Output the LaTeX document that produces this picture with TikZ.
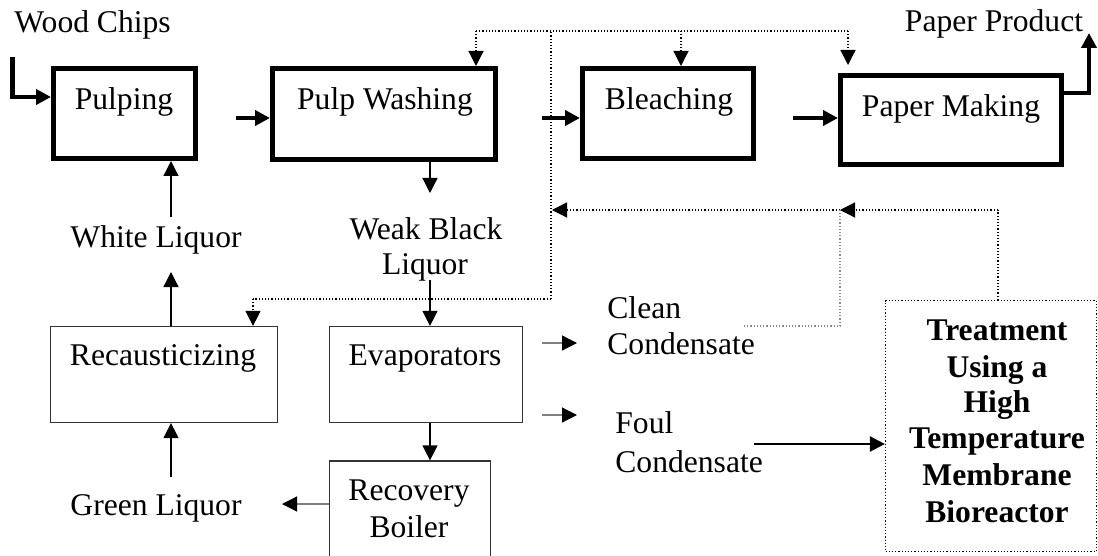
\documentclass[tikz,border=0pt]{standalone}
\usepackage{fontspec}
\setmainfont{Liberation Serif}
\usetikzlibrary{arrows.meta}
\begin{document}
\begin{tikzpicture}[x=0.5pt,y=-0.5pt,
  thickbox/.style={draw, line width=2.5pt, inner sep=0pt},
  thinbox/.style={draw=black!80, line width=0.6pt, inner sep=0pt},
  dotbox/.style={draw, densely dotted, line width=0.6pt, inner sep=0pt},
  txt/.style={inner sep=0pt, anchor=base, font=\fontsize{15.8}{17.5}\selectfont},
  btxt/.style={inner sep=0pt, anchor=base, font=\fontsize{15.8}{18}\selectfont\bfseries},
  arrtip/.style={-{Triangle[length=7.5pt,width=7.5pt]}},
  thk/.style={arrtip, line width=2.2pt},
  thn/.style={arrtip, line width=0.6pt},
  gthn/.style={-{Triangle[length=7.5pt,width=7.5pt,color=black]}, line width=0.6pt, draw=black!50},
  dotln/.style={densely dotted, line width=0.6pt},
  dotar/.style={dotln, arrtip},
]
\useasboundingbox (0,0) rectangle (1098,556);

% boxes
\node[thickbox, minimum width=142*0.5pt, minimum height=90*0.5pt] (pulp) at (124.5,113.5) {};
\node[thickbox, minimum width=223*0.5pt, minimum height=91*0.5pt] (pw) at (384,114) {};
\node[thickbox, minimum width=171*0.5pt, minimum height=90*0.5pt] (bl) at (668,113.5) {};
\node[thickbox, minimum width=221*0.5pt, minimum height=89*0.5pt] (pm) at (951,120) {};
\node[thinbox, minimum width=227*0.5pt, minimum height=96*0.5pt] (rec) at (164,374.5) {};
\node[thinbox, minimum width=193*0.5pt, minimum height=96*0.5pt] (eva) at (426,374.5) {};
\node[thinbox, minimum width=161*0.5pt, minimum height=99*0.5pt] (rb) at (410,510.5) {};
\node[dotbox, minimum width=211*0.5pt, minimum height=251*0.5pt] (tr) at (991,426) {};

% texts
\node[txt, anchor=base west] (wood) at (14,33) {Wood Chips};
\node[txt] (ppt) at (994,32) {Paper Product};
\node[txt] (pulpt) at (124,110) {Pulping};
\node[txt] (pwt) at (385,110) {Pulp Washing};
\node[txt] (blt) at (669,110) {Bleaching};
\node[txt] (pmt) at (951,117) {Paper Making};
\node[txt] (wlt) at (156,247) {White Liquor};
\node[txt] (wbat) at (426,239) {Weak Black};
\node[txt] (wbbt) at (425,274) {Liquor};
\node[txt] (rect) at (163,365) {Recausticizing};
\node[txt] (evat) at (425,365) {Evaporators};
\node[txt] (glt) at (156,515) {Green Liquor};
\node[txt] (rbat) at (409,500) {Recovery};
\node[txt] (rbbt) at (409,537) {Boiler};
\node[txt, anchor=base west] (ccat) at (607,318) {Clean};
\node[txt, anchor=base west] (ccbt) at (607,354) {Condensate};
\node[txt, anchor=base west] (fcat) at (615,433) {Foul};
\node[txt, anchor=base west] (fcbt) at (615,472) {Condensate};
\node[btxt] (tra) at (997,340) {Treatment};
\node[btxt] (trb) at (997,377) {Using a};
\node[btxt] (trc) at (997,412) {High};
\node[btxt] (trd) at (997,448) {Temperature};
\node[btxt] (tre) at (997,485) {Membrane};
\node[btxt] (trf) at (997,522) {Bioreactor};

% coordinates
\coordinate (wc1) at (12.5,57);
\coordinate (wc2) at (0,97);
\coordinate (a1) at (236,118);
\coordinate (a2) at (542,118);
\coordinate (a3) at (793,118);
\coordinate (pp0) at (0,93);
\coordinate (pp1) at (1089,33);
\coordinate (wl1) at (171,217);
\coordinate (wl2) at (171,272);
\coordinate (gl1) at (171,477);
\coordinate (gy) at (0,504);
\coordinate (gl2) at (282,504);
\coordinate (wb1) at (430,193);
\coordinate (wb2) at (430,280);
\coordinate (ce1) at (542,343);
\coordinate (ce2) at (577,343);
\coordinate (fe1) at (542,415);
\coordinate (fe2) at (577,415);
\coordinate (fc1) at (754,444);
\coordinate (j1) at (551,299);
\coordinate (j2) at (551,31);
\coordinate (t1) at (476,31);
\coordinate (t2) at (681,31);
\coordinate (t3) at (848,31);
\coordinate (t4) at (848,65);
\coordinate (j3) at (253,299);
\coordinate (r1) at (998,210);
\coordinate (r2) at (840,210);
\coordinate (r3) at (552,210);
\coordinate (c1) at (744,326);
\coordinate (c2) at (840,326);

% thick flow
\draw[thk] (wc1) |- (pulp.west |- wc2);
\draw[thk] (a1) -- (a1 -| pw.west);
\draw[thk] (a2) -- (a2 -| bl.west);
\draw[thk] (a3) -- (a3 -| pm.west);
\draw[thk] (pm.east |- pp0) -| (pp1);

% thin arrows
\draw[thn] (wl1) -- (wl1 |- pulp.south);
\draw[thn] (wl2 |- rec.north) -- (wl2);
\draw[thn] (gl1) -- (gl1 |- rec.south);
\draw[thn] (wb1 |- pw.south) -- (wb1);
\draw[thn] (wb2) -- (wb2 |- eva.north);
\draw[thn] (wb2 |- eva.south) -- (wb2 |- rb.north);
\draw[gthn] (rb.west |- gy) -- (gl2);
\draw[gthn] (ce1) -- (ce2);
\draw[gthn] (fe1) -- (fe2);
\draw[arrtip, line width=1.2pt] (fc1) -- (fc1 -| tr.west);

% dotted recycle lines
\draw[dotln] (j1) -- (j2);
\draw[dotln] (t1) -- (t3);
\draw[dotar] (t1) -- (t1 |- pw.north);
\draw[dotar] (t2) -- (t2 |- bl.north);
\draw[dotar] (t3) -- (t4);
\draw[dotln] (j1) -- (j3);
\draw[dotar] (j3) -- (j3 |- rec.north);
\draw[dotln] (tr.north -| r1) -- (r1);
\draw[dotar] (r1) -- (r2);
\draw[dotar] (r2) -- (r3);
\draw[dotln, draw=black!45] (c1) -- (c2) -- (r2);
\end{tikzpicture}
\end{document}
